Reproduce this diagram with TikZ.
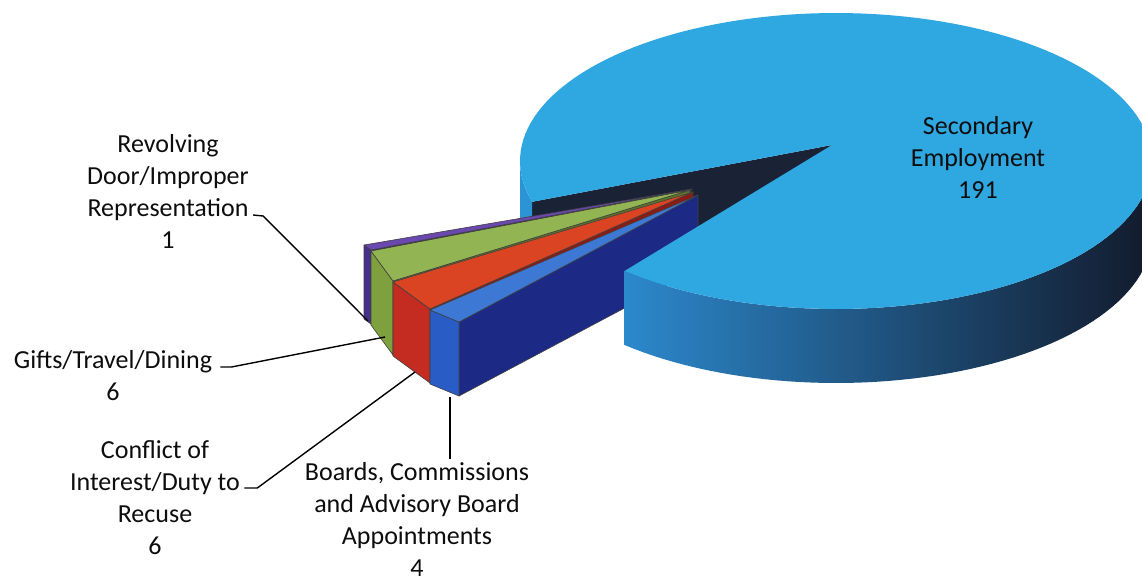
\documentclass[tikz,border=0pt]{standalone}
\usepackage{fontspec}
\setmainfont{Carlito}
\usetikzlibrary{calc}

\definecolor{secTop}{HTML}{2FA8E2}
\definecolor{secRim}{HTML}{2A94D4}
\definecolor{secSideL}{HTML}{2C88CC}
\definecolor{secSideM}{HTML}{1B2C66}
\definecolor{secSideR}{HTML}{121A2C}
\definecolor{secCut}{HTML}{1A2236}
\definecolor{revTop}{HTML}{6A48B0}
\definecolor{revFront}{HTML}{46308E}
\definecolor{revSide}{HTML}{2E2066}
\definecolor{giftTop}{HTML}{93B453}
\definecolor{giftFront}{HTML}{7FA03E}
\definecolor{giftSide}{HTML}{5A7428}
\definecolor{confTop}{HTML}{DA4422}
\definecolor{confFront}{HTML}{C42C22}
\definecolor{confSide}{HTML}{8A1C16}
\definecolor{boardTop}{HTML}{3C78D4}
\definecolor{boardFront}{HTML}{2A5CC6}
\definecolor{boardSide}{HTML}{1C2A86}

% ellipse of the big slice (pixel units, y downwards)
\newcommand{\pcx}{836}
\newcommand{\pcy}{161}
\newcommand{\prx}{316}
\newcommand{\pry}{148}
\newcommand{\dep}{74}

\tikzset{
  lbl/.style={align=center, inner sep=0pt, text=black!95, font=\fontsize{13}{16}\selectfont},
  leader/.style={line width=0.7pt, black},
  face/.style={draw=black!75, line width=0.3pt, line join=round},
}

\begin{document}
\begin{tikzpicture}[x=0.5pt, y=-0.5pt]
\useasboundingbox (0,0) rectangle (1142,580);

% big slice, the parts behind the exploded slices
\coordinate (apex) at (832,145);
\coordinate (cutA) at ({\pcx+\prx*cos(164)},{\pcy+\pry*sin(164)});
\coordinate (cutB) at ({\pcx+\prx*cos(132)},{\pcy+\pry*sin(132)});
\fill[secCut] (apex) -- (cutA) -- ($(cutA)+(0,\dep)$) -- ($(apex)+(0,\dep)$) -- cycle;
\fill[secRim] plot[domain=164:180, samples=20] ({\pcx+\prx*cos(\x)},{\pcy+\pry*sin(\x)})
  -- plot[domain=180:164, samples=20] ({\pcx+\prx*cos(\x)},{\pcy+\dep+\pry*sin(\x)}) -- cycle;

% exploded slices
\foreach \w/\tc/\fc/\sc/\ax/\ay/\bx/\by/\tx/\ty in {
  rev/revTop/revFront/revSide/364/245/371/250/692/189,
  gift/giftTop/giftFront/giftSide/371/251/393/281/690/190,
  conf/confTop/confFront/confSide/393/282/430/309/693/192,
  board/boardTop/boardFront/boardSide/430/310/459/322/698/195}
{
    \coordinate (\w A) at (\ax,\ay);
    \coordinate (\w B) at (\bx,\by);
    \coordinate (\w T) at (\tx,\ty);
    \filldraw[face, fill=\sc] (\w B) -- (\w T) -- ($(\w T)+(0,\dep)$) -- ($(\w B)+(0,\dep)$) -- cycle;
    \filldraw[face, fill=\fc] (\w A) -- (\w B) -- ($(\w B)+(0,\dep)$) -- ($(\w A)+(0,\dep)$) -- cycle;
    \filldraw[face, fill=\tc] (\w A) -- (\w B) -- (\w T) -- cycle;
}

% big slice, rim and top
\shade[left color=secSideL, middle color=secSideM, right color=secSideR]
  plot[domain=0:132, samples=60] ({\pcx+\prx*cos(\x)},{\pcy+\pry*sin(\x)})
  -- plot[domain=132:0, samples=60] ({\pcx+\prx*cos(\x)},{\pcy+\dep+\pry*sin(\x)}) -- cycle;
\fill[secTop] (apex) -- plot[domain=-196:132, samples=150] ({\pcx+\prx*cos(\x)},{\pcy+\pry*sin(\x)}) -- cycle;

% labels
\node[lbl] (lblSec) at (978,157) {Secondary\\Employment\\191};
\node[lbl] (lblRev) at (168,191) {Revolving\\Door/Improper\\Representation\\1};
\node[lbl] (lblGift) at (113,376) {Gifts/Travel/Dining\\6};
\node[lbl] (lblConf) at (155,498) {Conflict of\\Interest/Duty to\\Recuse\\6};
\node[lbl, outer sep=1.5pt] (lblBoard) at (417,519) {Boards, Commissions\\and Advisory Board\\Appointments\\4};

% leader lines
\coordinate (pkRev) at (368,321);
\coordinate (pkGift) at (385,337);
\coordinate (pkConf) at (415,372);
\coordinate (pkBoard) at (450,397);
\draw[leader] (lblRev.east) ++(4,24) -- ++(10,1) -- (pkRev);
\draw[leader] (lblGift.east) ++(8,-9) -- ++(11,0) -- (pkGift);
\draw[leader] (lblConf.east) ++(4,-10) -- ++(13,0) -- (pkConf);
\draw[leader] (pkBoard) -- (pkBoard |- lblBoard.north);
\end{tikzpicture}
\end{document}
